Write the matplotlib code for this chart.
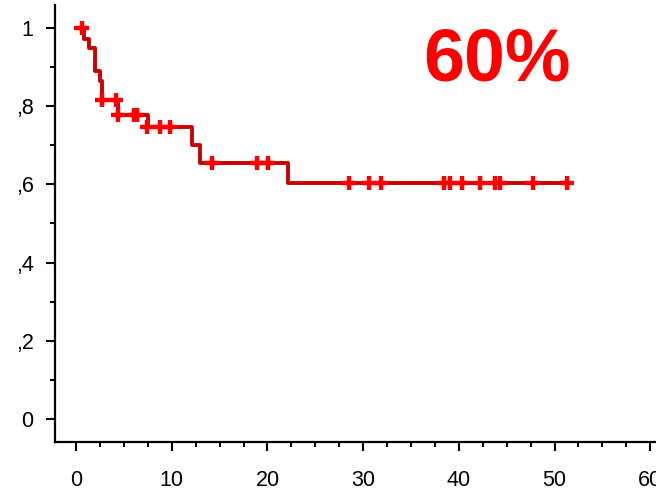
import matplotlib
matplotlib.use("Agg")
import matplotlib.pyplot as plt
from matplotlib.ticker import MultipleLocator, FixedLocator

# Kaplan-Meier step curve (time in months, cumulative survival)
step_times = [0, 0.87, 1.39, 1.99, 2.5, 2.75, 4.4, 7.55, 12.1, 12.9, 22.1, 51.8]
step_surv = [1.0, 0.973, 0.95, 0.89, 0.864, 0.816, 0.777, 0.747, 0.70, 0.654, 0.603, 0.603]

# censored observations
cens_times = [0.6, 2.7, 4.2, 4.4, 6.1, 6.4, 7.4, 8.8, 9.85, 14.25, 18.9, 20.1,
              28.5, 30.6, 31.9, 38.4, 39.1, 40.3, 42.2, 43.8, 44.3, 47.7, 51.3]
cens_surv = [1.0, 0.816, 0.816, 0.777, 0.777, 0.777, 0.747, 0.747, 0.747, 0.654, 0.654, 0.654,
             0.603, 0.603, 0.603, 0.603, 0.603, 0.603, 0.603, 0.603, 0.603, 0.603, 0.603]

x_ticks = [0, 10, 20, 30, 40, 50, 60]
y_ticks = [0, 0.2, 0.4, 0.6, 0.8, 1.0]
y_tick_labels = ["0", ",2", ",4", ",6", ",8", "1"]
big_label = "60%"

plt.rcParams["font.family"] = ["Liberation Sans", "DejaVu Sans"]

fig = plt.figure(figsize=(6.56, 4.91), dpi=100)
ax = fig.add_axes([55 / 656, 49 / 491, 1 - 55 / 656, (442 - 5) / 491])

ax.step(step_times, step_surv, where="post", color="#cc0000", lw=2.8, zorder=2)
ax.plot(cens_times, cens_surv, linestyle="none", marker="+", color="#ff0000",
        markersize=10, markeredgewidth=3.2, zorder=3)

ax.text(44.0, 0.867, big_label, color="#ff0000", fontsize=53, fontweight="bold",
        ha="center", va="baseline")

ax.set_xlim(-2.2, 60.6)
ax.set_ylim(-0.059, 1.059)

ax.xaxis.set_major_locator(FixedLocator(x_ticks))
ax.xaxis.set_minor_locator(MultipleLocator(2.5))
ax.set_yticks(y_ticks)
ax.set_yticklabels(y_tick_labels)
ax.yaxis.set_minor_locator(MultipleLocator(0.1))

for side in ["top", "right"]:
    ax.spines[side].set_visible(False)
for side in ["left", "bottom"]:
    ax.spines[side].set_linewidth(1.6)

ax.tick_params(axis="both", which="major", length=6.5, width=1.5, labelsize=15.5, direction="out")
ax.tick_params(axis="both", which="minor", length=3.5, width=1.5, direction="out")
ax.tick_params(axis="x", which="major", pad=14)
ax.tick_params(axis="y", which="major", pad=9)

fig.savefig("out.png", dpi=100)
